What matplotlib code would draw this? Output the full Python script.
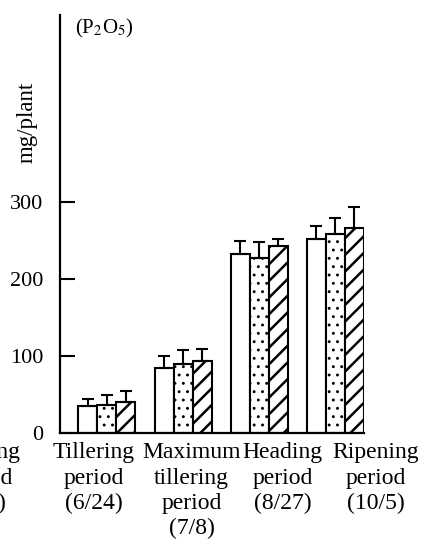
import numpy as np
import matplotlib
matplotlib.use("Agg")
import matplotlib.pyplot as plt
from matplotlib.transforms import blended_transform_factory

plt.rcParams["font.family"] = ["Liberation Serif", "DejaVu Serif"]
plt.rcParams["mathtext.fontset"] = "stix"

# --- data (P2O5 uptake, mg/plant) ---
periods = ["Tillering\nperiod\n(6/24)", "Maximum\ntillering\nperiod\n(7/8)",
           "Heading\nperiod\n(8/27)", "Ripening\nperiod\n(10/5)"]
cut_label = "Rooting\nperiod\n(6/5)"   # label of neighbouring panel, cut off at the edge

plain_vals = [35, 84, 232, 252]
plain_err = [9, 16, 17, 17]
dotted_vals = [37, 89, 227, 259]
dotted_err = [13, 19, 21, 20]
hatched_vals = [40, 94, 243, 266]
hatched_err = [14, 15, 9, 28]

yticks = [0, 100, 200, 300]

fig = plt.figure(figsize=(4.22, 5.42), dpi=100)
ax = fig.add_axes([60 / 422, 109 / 542, 304 / 422, 418 / 542])

x = np.arange(len(periods))
w = 0.25
series = [
    (plain_vals, plain_err, -w, None),
    (dotted_vals, dotted_err, 0.0, ".."),
    (hatched_vals, hatched_err, w, "//"),
]
for vals, errs, off, hatch in series:
    plt.rcParams["hatch.linewidth"] = 1.8 if hatch == "//" else 0.9
    ax.bar(x + off, vals, width=w, color="white", edgecolor="black",
           linewidth=1.5, hatch=hatch, zorder=2)
    ax.errorbar(x + off, vals, yerr=[np.zeros(len(errs)), errs], fmt="none",
                ecolor="black", elinewidth=1.5, capsize=4.3, capthick=1.5,
                zorder=3)

ax.set_xlim(-0.616, 3.375)
ax.set_ylim(0, 543)
ax.set_yticks(yticks)
ax.set_yticklabels([str(t) for t in yticks])
ax.set_xticks([])
ax.tick_params(axis="y", direction="in", length=11, width=1.5, pad=12,
               labelsize=16)
for s in ["top", "right"]:
    ax.spines[s].set_visible(False)
ax.spines["left"].set_linewidth(1.6)
ax.spines["bottom"].set_linewidth(1.6)

ax.text(-0.109, 0.744, "mg/plant", transform=ax.transAxes, rotation=90,
        ha="center", va="center", fontsize=16.5)
ax.text(0.049, 0.995, "(P$_2$O$_5$)", transform=ax.transAxes,
        ha="left", va="top", fontsize=15)

trans = blended_transform_factory(ax.transData, ax.transAxes)
label_x = [-0.17, 1.11, 2.31, 3.53]
for lx, lab in zip(label_x, periods):
    ax.text(lx, -0.022, lab, transform=trans, ha="center", va="top",
            multialignment="center", fontsize=17, linespacing=1.27,
            clip_on=False)
ax.text(-1.63, -0.022, cut_label, transform=trans, ha="center", va="top",
        multialignment="center", fontsize=17, linespacing=1.27, clip_on=False)

fig.savefig("out.png", dpi=100)
